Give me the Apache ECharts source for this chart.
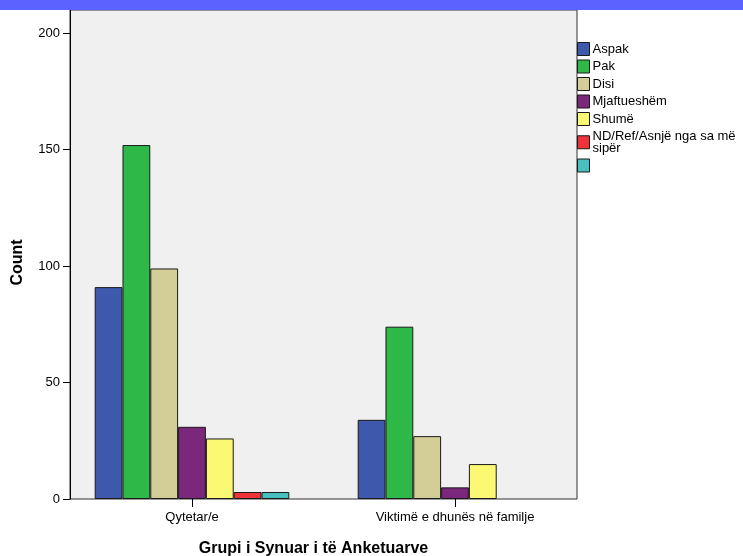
<!DOCTYPE html>
<html>
<head>
<meta charset="utf-8">
<script src="https://cdn.jsdelivr.net/npm/echarts@6/dist/echarts.min.js"></script>
<style>
    html, body { margin: 0; padding: 0; background: #fff; }
    #chart { width: 743px; height: 556px; }
</style>
</head>
<body>
<div id="chart"></div>
<script>
    //分组与回答类别
    var groups = ['Qytetar/e', 'Viktimë e dhunës në familje'];
    var responses = ['Aspak', 'Pak', 'Disi', 'Mjaftueshëm', 'Shumë', 'ND/Ref/Asnjë nga sa më\nsipër', ' '];
    var colors = ['#3e58ac', '#2eb848', '#d3ce97', '#7b277c', '#fbf873', '#ef3338', '#48c0c0'];
    //每组的数值
    var qytetarValues = [91, 152, 99, 31, 26, 3, 3];
    var viktimeValues = [34, 74, 27, 5, 15, null, null];
    var yTicks = [0, 50, 100, 150, 200];

    var font = 'Liberation Sans, Arial, sans-serif';

    var series = [];
    for (var i = 0; i < responses.length; i++) {
        series.push({
            type: 'bar',
            name: responses[i],
            xAxisIndex: 0,
            yAxisIndex: 0,
            barGap: 0,
            barCategoryGap: '26%',
            itemStyle: {
                color: colors[i],
                borderColor: '#1a1a1a',
                borderWidth: 1
            },
            emphasis: { disabled: true },
            data: [qytetarValues[i], viktimeValues[i] == null ? '-' : viktimeValues[i]]
        });
    }

    var chart = echarts.init(document.getElementById('chart'), null, { renderer: 'canvas' });
    var option = {
        animation: false,
        textStyle: { fontFamily: font },
        graphic: [{
            type: 'rect',
            shape: { x: 0, y: 0, width: 743, height: 10 },
            style: { fill: '#5b62ff' },
            z: 100
        }],
        legend: {
            orient: 'vertical',
            left: 577,
            top: 42,
            padding: 0,
            itemWidth: 12,
            itemHeight: 13,
            itemGap: 3.5,
            icon: 'rect',
            itemStyle: { borderColor: '#1a1a1a', borderWidth: 1 },
            textStyle: { fontFamily: font, fontSize: 13, color: '#000', lineHeight: 12.5, padding: [0, 0, 0, -2] },
            selectedMode: false,
            data: responses
        },
        grid: [{
            left: 60.5,
            top: 10,
            width: 526,
            height: 489,
            outerBoundsMode: 'none',
            show: false
        }, {
            left: 70,
            top: 10,
            width: 507,
            height: 489,
            outerBoundsMode: 'none',
            show: true,
            backgroundColor: '#f0f0f0',
            borderColor: '#333',
            borderWidth: 1,
            z: 0
        }],
        xAxis: [{
            type: 'category',
            gridIndex: 0,
            data: groups,
            boundaryGap: true,
            axisLine: { show: false },
            axisTick: { show: true, alignWithLabel: true, length: 8, lineStyle: { color: '#000' } },
            axisLabel: { color: '#000', fontSize: 13, margin: 12, fontFamily: font },
            name: 'Grupi i Synuar i të Anketuarve',
            nameLocation: 'middle',
            nameGap: 42,
            nameTextStyle: { fontSize: 16, fontWeight: 'bold', color: '#000', fontFamily: font, padding: [0, 20, 0, 0] }
        }, {
            type: 'category',
            gridIndex: 1,
            data: groups,
            show: false
        }],
        yAxis: [{
            type: 'value',
            gridIndex: 0,
            min: 0,
            max: 210,
            offset: -9.5,
            splitLine: { show: false },
            axisLine: { show: true, lineStyle: { color: '#000' } },
            axisTick: { show: true, length: 7, customValues: yTicks, lineStyle: { color: '#000' } },
            axisLabel: { color: '#000', fontSize: 13, margin: 10, customValues: yTicks, fontFamily: font },
            name: 'Count',
            nameLocation: 'middle',
            nameGap: 44,
            nameTextStyle: { fontSize: 16, fontWeight: 'bold', color: '#000', fontFamily: font, padding: [0, 16, 0, 0] }
        }, {
            type: 'value',
            gridIndex: 1,
            show: false
        }],
        series: series
    };
    chart.setOption(option);
</script>
</body>
</html>
